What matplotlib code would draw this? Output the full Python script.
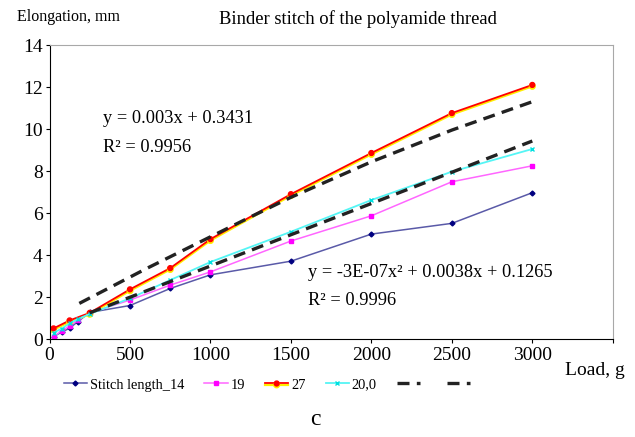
import matplotlib
matplotlib.use("Agg")
import matplotlib.pyplot as plt
import matplotlib.patheffects as pe

plt.rcParams['font.family'] = ['Liberation Serif', 'DejaVu Serif']

# load, g
load_14 = [25, 75, 125, 175, 250, 500, 750, 1000, 1500, 2000, 2500, 3000]
elong_14 = [0.12, 0.33, 0.52, 0.83, 1.27, 1.6, 2.41, 3.06, 3.71, 5.0, 5.51, 6.97]

load_19 = [25, 75, 125, 175, 250, 500, 750, 1000, 1500, 2000, 2500, 3000]
elong_19 = [0.11, 0.4, 0.62, 0.9, 1.25, 1.86, 2.57, 3.2, 4.67, 5.87, 7.49, 8.25]

load_27 = [25, 125, 250, 500, 750, 1000, 1500, 2000, 2500, 3000]
elong_27 = [0.51, 0.89, 1.25, 2.37, 3.38, 4.76, 6.9, 8.86, 10.76, 12.1]

load_20 = [25, 75, 125, 175, 250, 500, 750, 1000, 1500, 2000, 2500, 3000]
elong_20 = [0.3, 0.5, 0.75, 0.95, 1.2, 1.94, 2.81, 3.67, 5.11, 6.62, 7.97, 9.05]

# trend lines
trend_lin_x = [250, 3000]
trend_lin_y = [1.25, 9.43]
trend_poly_x = [185, 600, 1000, 1250, 1500, 2000, 2500, 3000]
trend_poly_y = [1.7, 3.35, 4.87, 5.82, 6.75, 8.44, 9.95, 11.3]

eq_lin = ["y = 0.003x + 0.3431", "R² = 0.9956"]
eq_poly = ["y = -3E-07x² + 0.0038x + 0.1265", "R² = 0.9996"]

fig = plt.figure(figsize=(6.35, 4.37), dpi=100)
ax = fig.add_axes([0.078, 0.224, 0.887, 0.673])

ax.plot(load_14, elong_14, color='#5a5aa8', lw=1.1, marker='D', ms=2.5,
        mfc='#000080', mec='#000080', label='Stitch length_14')
ax.plot(load_19, elong_19, color='#ff66ff', lw=1.1, marker='s', ms=3.5,
        mfc='#ff00ff', mec='#ff00ff', label='19')
ax.plot(load_27, elong_27, color='#ff0000', lw=1.3, marker='o', ms=3.5,
        mfc='#ff0000', mec='#ff0000', label='27',
        path_effects=[pe.Stroke(offset=(0, -1), linewidth=1.6, foreground='#ffee00'),
                      pe.Normal()])
ax.plot(load_20, elong_20, color='#55f5f5', lw=1.3, marker='x', ms=3,
        mec='#00e0e0', label='20,0')
ax.plot(trend_lin_x, trend_lin_y, color='#222222', lw=2.4, dashes=(3.6, 2.2), label=' ')
ax.plot(trend_poly_x, trend_poly_y, color='#222222', lw=2.4, dashes=(3.6, 2.2), label=' ')

ax.set_xlim(0, 3500)
ax.set_ylim(0, 14)
ax.set_xticks(range(0, 3501, 500))
ax.set_xticklabels([str(v) if v <= 3000 else '' for v in range(0, 3501, 500)])
ax.set_yticks(range(0, 15, 2))
ax.tick_params(labelsize=14, length=3, direction='out', pad=2)
ax.tick_params(axis='x', pad=3)
for s in ['top', 'right']:
    ax.spines[s].set_color('#a8a8a8')
ax.spines['left'].set_color('black')
ax.spines['bottom'].set_color('black')

ax.text(333, 10.5, eq_lin[0], fontsize=13.2, va='center')
ax.text(333, 9.14, eq_lin[1], fontsize=13.2, va='center')
ax.text(1609, 3.19, eq_poly[0], fontsize=13.2, va='center')
ax.text(1609, 1.86, eq_poly[1], fontsize=13.2, va='center')

fig.text(0.563, 0.957, "Binder stitch of the polyamide thread", fontsize=13.4, ha='center', va='center')
fig.text(0.027, 0.96, "Elongation, mm", fontsize=11.5, ha='left', va='center')
fig.text(0.89, 0.152, "Load, g", fontsize=14, ha='left', va='center')
fig.text(0.496, 0.04, "c", fontsize=17, ha='center', va='center')

fig.legend(loc='center left', bbox_to_anchor=(0.08, 0.119), ncol=6, frameon=False,
           fontsize=10.4, handlelength=1.6, handletextpad=0.2, columnspacing=1.4)

fig.savefig("out.png", dpi=100)
